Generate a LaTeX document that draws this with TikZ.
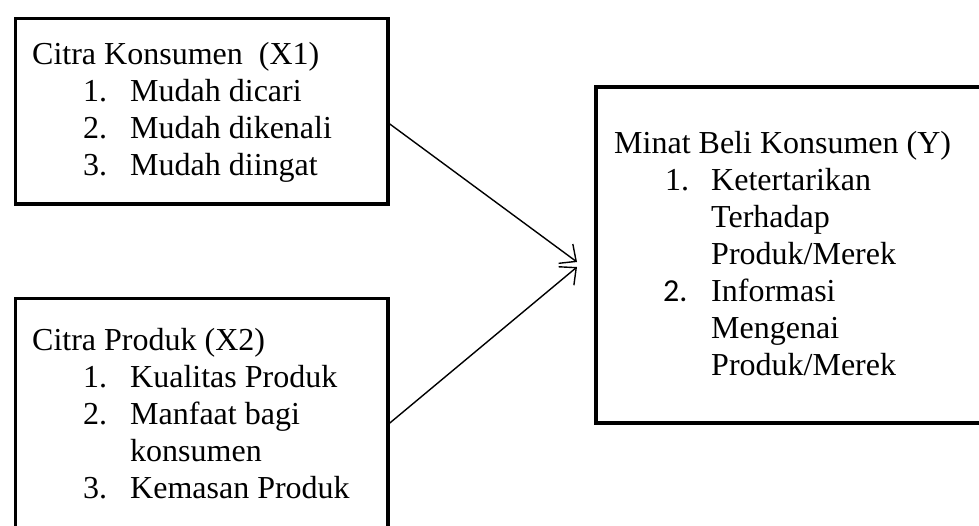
\documentclass[tikz,border=0pt]{standalone}
\usepackage{fontspec}
\setmainfont{Liberation Serif}
\newfontfamily\calfont{Carlito}
\usetikzlibrary{arrows.meta}
\begin{document}
\begin{tikzpicture}[x=1pt,y=-1pt,
  box/.style={draw,line width=3.8pt,inner sep=0pt,anchor=north west},
  txt/.style={inner sep=0pt,anchor=base west,font=\fontsize{32}{37}\selectfont},
  arr/.style={line width=1.4pt,-{Straight Barb[length=13pt,width=24pt,line width=1.4pt]}}]
\useasboundingbox (0,0) rectangle (979,525);
\clip (0,0) rectangle (979,525);
% boxes
\node[box,minimum width=372.5pt,minimum height=185.5pt] (b1) at (13.5,16.5) {};
\node[box,minimum width=372.5pt,minimum height=260pt] (b2) at (13.5,296.5) {};
\node[box,minimum width=420pt,minimum height=336pt] (b3) at (594,85) {};
% box 1 text
\node[txt] (h1) at (32,64) {Citra Konsumen\hspace{16pt}(X1)};
\node[txt] (n11) at (83,101) {1.};
\node[txt] (i11) at (130,101) {Mudah dicari};
\node[txt] (n12) at (83,138) {2.};
\node[txt] (i12) at (130,138) {Mudah dikenali};
\node[txt] (n13) at (83,175) {3.};
\node[txt] (i13) at (130,175) {Mudah diingat};
% box 2 text
\node[txt] (h2) at (32,350) {Citra Produk (X2)};
\node[txt] (n21) at (83,387) {1.};
\node[txt] (i21) at (130,387) {Kualitas Produk};
\node[txt] (n22) at (83,424) {2.};
\node[txt] (i22) at (130,424) {Manfaat bagi};
\node[txt] (i22b) at (130,461) {konsumen};
\node[txt] (n23) at (83,498) {3.};
\node[txt] (i23) at (130,498) {Kemasan Produk};
% box 3 text
\node[txt] (h3) at (614,153) {Minat Beli Konsumen (Y)};
\node[txt] (n31) at (665,190) {1.};
\node[txt] (i31) at (711,190) {Ketertarikan};
\node[txt] (i31b) at (711,227) {Terhadap};
\node[txt] (i31c) at (711,264) {Produk/Merek};
\node[txt,font=\calfont\fontsize{32}{37}\selectfont] (n32) at (663,301) {2.};
\node[txt] (i32) at (711,301) {Informasi};
\node[txt] (i32b) at (711,338) {Mengenai};
\node[txt] (i32c) at (711,375) {Produk/Merek};
% connectors
\coordinate (t1) at (577,262);
\coordinate (t2) at (577,267);
\draw[arr] (b1.east |- 0,124) -- (t1);
\draw[arr] (b2.east |- 0,423) -- (t2);
\end{tikzpicture}
\end{document}
